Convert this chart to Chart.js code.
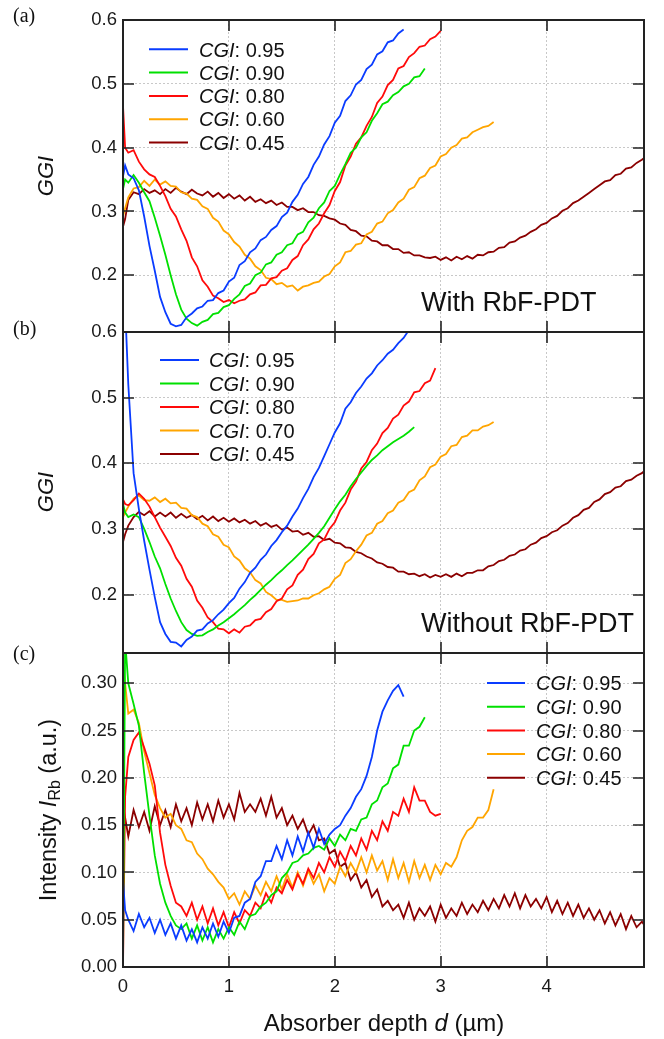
<!DOCTYPE html>
<html lang="en">
<head>
  <meta charset="UTF-8">
  <title>GGI and Rb depth profiles</title>
  <script src="https://cdn.jsdelivr.net/npm/chart.js@4"></script>
  <style>
    body { margin: 0; background: #fff; }
    #wrap { position: relative; width: 664px; height: 1039px; font-family: "Liberation Sans", Arial, sans-serif; color: #111; }
    canvas { position: absolute; left: 0; }
    .panel { position: absolute; left: 13px; font-family: "Liberation Serif", "Times New Roman", serif; font-size: 20px; line-height: 20px; }
    .title { position: absolute; white-space: nowrap; line-height: 1; transform: translate(-50%, -50%); }
    .rot { transform: translate(-50%, -50%) rotate(-90deg); }
    sub { font-size: 0.68em; vertical-align: -0.25em; }
  </style>
</head>
<body>
<div id="wrap">
  <canvas id="chartA" width="664" height="350" style="top:0px"></canvas>
  <canvas id="chartB" width="664" height="360" style="top:312px"></canvas>
  <canvas id="chartC" width="664" height="406" style="top:633px"></canvas>

  <div class="panel" style="top:5px">(a)</div>
  <div class="panel" style="top:318px">(b)</div>
  <div class="panel" style="top:643px">(c)</div>
  <div class="title rot" style="left:46px; top:176px; font-size:22px"><i>GGI</i></div>
  <div class="title rot" style="left:46px; top:492px; font-size:22px"><i>GGI</i></div>
  <div class="title rot" style="left:50px; top:810px; font-size:23.5px">Intensity <i>I</i><sub>Rb</sub> (a.u.)</div>
  <div class="title" style="left:384px; top:1023px; font-size:24px">Absorber depth <i>d</i> (µm)</div>
</div>

<script>
  // sampling depths (µm), shared by every series
  const depth = [0, 0.02, 0.05, 0.1, 0.15, 0.2, 0.25, 0.3, 0.35, 0.4,
    0.45, 0.5, 0.55, 0.6, 0.65, 0.7, 0.75, 0.8, 0.85, 0.9,
    0.95, 1, 1.05, 1.1, 1.15, 1.2, 1.25, 1.3, 1.35, 1.4,
    1.45, 1.5, 1.55, 1.6, 1.65, 1.7, 1.75, 1.8, 1.85, 1.9,
    1.95, 2, 2.05, 2.1, 2.15, 2.2, 2.25, 2.3, 2.35, 2.4,
    2.45, 2.5, 2.55, 2.6, 2.65, 2.7, 2.75, 2.8, 2.85, 2.9,
    2.95, 3, 3.05, 3.1, 3.15, 3.2, 3.25, 3.3, 3.35, 3.4,
    3.45, 3.5, 3.55, 3.6, 3.65, 3.7, 3.75, 3.8, 3.85, 3.9,
    3.95, 4, 4.05, 4.1, 4.15, 4.2, 4.25, 4.3, 4.35, 4.4,
    4.45, 4.5, 4.55, 4.6, 4.65, 4.7, 4.75, 4.8, 4.85, 4.9,
    4.95];

  const cgiA = ['0.95', '0.90', '0.80', '0.60', '0.45'];
  const cgiB = ['0.95', '0.90', '0.80', '0.70', '0.45'];
  const cgiC = ['0.95', '0.90', '0.80', '0.60', '0.45'];
  const colors = ['#0a3cff', '#00e000', '#ff0a0a', '#ffa500', '#8b0000'];

  const xTicks = [0, 1, 2, 3, 4];
  const ggiTicks = [0.2, 0.3, 0.4, 0.5, 0.6];
  const rbTicks = [0, 0.05, 0.10, 0.15, 0.20, 0.25, 0.30];

  // (a) GGI, with RbF-PDT
  const ggiWith95 = [0.355, 0.372, 0.358, 0.352, 0.333, 0.292, 0.246, 0.207, 0.166, 0.142,
    0.124, 0.120, 0.122, 0.134, 0.140, 0.148, 0.151, 0.160, 0.161, 0.172,
    0.176, 0.190, 0.196, 0.216, 0.222, 0.236, 0.242, 0.255, 0.260, 0.271,
    0.277, 0.291, 0.298, 0.315, 0.326, 0.343, 0.354, 0.373, 0.386, 0.405,
    0.418, 0.439, 0.450, 0.473, 0.482, 0.499, 0.506, 0.523, 0.530, 0.546,
    0.551, 0.565, 0.568, 0.579, 0.585];
  const ggiWith90 = [0.335, 0.350, 0.345, 0.357, 0.345, 0.330, 0.316, 0.290, 0.262, 0.232,
    0.200, 0.170, 0.146, 0.132, 0.125, 0.121, 0.127, 0.130, 0.139, 0.141,
    0.150, 0.153, 0.163, 0.170, 0.183, 0.187, 0.200, 0.204, 0.217, 0.220,
    0.232, 0.236, 0.247, 0.250, 0.264, 0.268, 0.283, 0.290, 0.305, 0.314,
    0.332, 0.340, 0.358, 0.374, 0.392, 0.400, 0.416, 0.424, 0.442, 0.454,
    0.468, 0.472, 0.482, 0.487, 0.496, 0.500, 0.510, 0.512, 0.524];
  const ggiWith80 = [0.465, 0.400, 0.392, 0.396, 0.378, 0.366, 0.358, 0.354, 0.340, 0.324,
    0.304, 0.292, 0.272, 0.254, 0.228, 0.214, 0.192, 0.182, 0.168, 0.164,
    0.158, 0.161, 0.156, 0.160, 0.162, 0.170, 0.173, 0.184, 0.185, 0.195,
    0.197, 0.207, 0.211, 0.224, 0.230, 0.247, 0.256, 0.272, 0.281, 0.297,
    0.310, 0.332, 0.346, 0.372, 0.386, 0.406, 0.416, 0.434, 0.448, 0.470,
    0.480, 0.498, 0.506, 0.524, 0.528, 0.542, 0.548, 0.558, 0.560, 0.570,
    0.574, 0.583];
  const ggiWith60 = [0.292, 0.305, 0.322, 0.336, 0.338, 0.348, 0.340, 0.350, 0.342, 0.347,
    0.340, 0.339, 0.330, 0.328, 0.320, 0.318, 0.308, 0.304, 0.290, 0.284,
    0.270, 0.264, 0.252, 0.245, 0.232, 0.226, 0.214, 0.208, 0.196, 0.194,
    0.186, 0.188, 0.182, 0.184, 0.176, 0.182, 0.184, 0.188, 0.190, 0.198,
    0.202, 0.214, 0.220, 0.236, 0.238, 0.248, 0.250, 0.264, 0.268, 0.281,
    0.284, 0.297, 0.302, 0.314, 0.320, 0.334, 0.338, 0.352, 0.356, 0.368,
    0.372, 0.386, 0.390, 0.400, 0.404, 0.414, 0.416, 0.424, 0.428, 0.432,
    0.434, 0.440];
  const ggiWith45 = [0.276, 0.288, 0.318, 0.330, 0.327, 0.335, 0.329, 0.333, 0.327, 0.335,
    0.329, 0.337, 0.331, 0.327, 0.334, 0.328, 0.325, 0.331, 0.323, 0.329,
    0.321, 0.327, 0.320, 0.325, 0.317, 0.323, 0.315, 0.319, 0.313, 0.317,
    0.310, 0.314, 0.307, 0.307, 0.302, 0.305, 0.299, 0.299, 0.294, 0.293,
    0.289, 0.287, 0.281, 0.279, 0.271, 0.269, 0.262, 0.261, 0.254, 0.253,
    0.247, 0.247, 0.241, 0.241, 0.235, 0.236, 0.231, 0.231, 0.228, 0.227,
    0.229, 0.224, 0.228, 0.223, 0.229, 0.225, 0.230, 0.226, 0.232, 0.231,
    0.236, 0.237, 0.243, 0.244, 0.251, 0.253, 0.259, 0.262, 0.268, 0.272,
    0.279, 0.282, 0.289, 0.293, 0.301, 0.305, 0.313, 0.317, 0.323, 0.329,
    0.335, 0.341, 0.347, 0.349, 0.357, 0.359, 0.367, 0.369, 0.376, 0.381,
    0.387];

  // (b) GGI, without RbF-PDT
  const ggiWithout95 = [0.700, 0.640, 0.520, 0.385, 0.330, 0.282, 0.238, 0.196, 0.158, 0.140,
    0.128, 0.127, 0.121, 0.131, 0.136, 0.145, 0.147, 0.156, 0.161, 0.170,
    0.177, 0.187, 0.195, 0.209, 0.219, 0.233, 0.241, 0.253, 0.261, 0.274,
    0.283, 0.295, 0.305, 0.319, 0.331, 0.347, 0.361, 0.379, 0.393, 0.411,
    0.429, 0.447, 0.461, 0.483, 0.493, 0.507, 0.517, 0.529, 0.537, 0.549,
    0.557, 0.567, 0.573, 0.583, 0.591, 0.603];
  const ggiWithout90 = [0.338, 0.325, 0.318, 0.322, 0.318, 0.300, 0.280, 0.258, 0.240, 0.216,
    0.194, 0.175, 0.158, 0.146, 0.140, 0.137, 0.138, 0.143, 0.147, 0.153,
    0.158, 0.164, 0.170, 0.177, 0.184, 0.192, 0.199, 0.207, 0.215, 0.222,
    0.230, 0.237, 0.245, 0.252, 0.260, 0.268, 0.276, 0.285, 0.294, 0.304,
    0.317, 0.330, 0.342, 0.352, 0.365, 0.376, 0.386, 0.396, 0.405, 0.412,
    0.420, 0.426, 0.432, 0.437, 0.442, 0.448, 0.455];
  const ggiWithout80 = [0.345, 0.338, 0.336, 0.344, 0.354, 0.346, 0.334, 0.318, 0.302, 0.288,
    0.274, 0.256, 0.244, 0.224, 0.212, 0.191, 0.180, 0.165, 0.158, 0.148,
    0.147, 0.141, 0.147, 0.142, 0.151, 0.153, 0.161, 0.163, 0.173, 0.178,
    0.190, 0.194, 0.208, 0.214, 0.230, 0.238, 0.254, 0.262, 0.278, 0.284,
    0.300, 0.310, 0.328, 0.340, 0.360, 0.372, 0.392, 0.402, 0.420, 0.430,
    0.446, 0.454, 0.468, 0.474, 0.488, 0.494, 0.508, 0.510, 0.522, 0.526,
    0.545];
  const ggiWithout70 = [0.318, 0.325, 0.334, 0.346, 0.351, 0.344, 0.343, 0.348, 0.341, 0.346,
    0.339, 0.340, 0.332, 0.331, 0.321, 0.318, 0.308, 0.304, 0.292, 0.288,
    0.276, 0.272, 0.258, 0.252, 0.240, 0.234, 0.222, 0.217, 0.204, 0.199,
    0.192, 0.192, 0.189, 0.190, 0.191, 0.194, 0.194, 0.199, 0.202, 0.208,
    0.212, 0.224, 0.230, 0.248, 0.254, 0.266, 0.276, 0.290, 0.294, 0.308,
    0.312, 0.324, 0.328, 0.340, 0.344, 0.356, 0.360, 0.374, 0.380, 0.394,
    0.398, 0.410, 0.414, 0.426, 0.428, 0.440, 0.442, 0.450, 0.450, 0.456,
    0.458, 0.463];
  const ggiWithout45 = [0.280, 0.292, 0.305, 0.318, 0.326, 0.321, 0.327, 0.319, 0.325, 0.319,
    0.325, 0.317, 0.323, 0.317, 0.321, 0.315, 0.320, 0.313, 0.319, 0.312,
    0.317, 0.311, 0.316, 0.310, 0.314, 0.308, 0.312, 0.305, 0.309, 0.303,
    0.306, 0.299, 0.302, 0.296, 0.297, 0.291, 0.294, 0.288, 0.289, 0.283,
    0.285, 0.279, 0.278, 0.272, 0.271, 0.265, 0.263, 0.258, 0.255, 0.249,
    0.247, 0.242, 0.241, 0.235, 0.235, 0.231, 0.232, 0.228, 0.231, 0.226,
    0.230, 0.227, 0.231, 0.227, 0.232, 0.228, 0.233, 0.233, 0.237, 0.237,
    0.243, 0.245, 0.251, 0.253, 0.259, 0.261, 0.267, 0.269, 0.276, 0.279,
    0.286, 0.289, 0.295, 0.298, 0.305, 0.309, 0.317, 0.321, 0.329, 0.332,
    0.341, 0.345, 0.353, 0.356, 0.363, 0.365, 0.373, 0.375, 0.381, 0.385,
    0.392];

  // (c) Rb intensity
  const rb95 = [0.092, 0.060, 0.050, 0.038, 0.056, 0.042, 0.052, 0.036, 0.050, 0.034,
    0.046, 0.030, 0.044, 0.028, 0.040, 0.026, 0.042, 0.030, 0.046, 0.032,
    0.048, 0.036, 0.052, 0.054, 0.068, 0.072, 0.090, 0.096, 0.112, 0.112,
    0.128, 0.114, 0.134, 0.118, 0.138, 0.122, 0.142, 0.126, 0.146, 0.130,
    0.140, 0.146, 0.150, 0.160, 0.168, 0.180, 0.188, 0.202, 0.222, 0.250,
    0.270, 0.282, 0.292, 0.298, 0.286];
  const rb90 = [0.000, 0.345, 0.300, 0.278, 0.255, 0.205, 0.160, 0.118, 0.088, 0.068,
    0.054, 0.044, 0.040, 0.046, 0.030, 0.044, 0.028, 0.042, 0.026, 0.040,
    0.030, 0.042, 0.034, 0.048, 0.040, 0.054, 0.056, 0.064, 0.068, 0.076,
    0.080, 0.094, 0.100, 0.110, 0.112, 0.118, 0.120, 0.126, 0.128, 0.124,
    0.136, 0.128, 0.140, 0.134, 0.146, 0.144, 0.156, 0.158, 0.172, 0.176,
    0.190, 0.194, 0.210, 0.214, 0.234, 0.234, 0.250, 0.254, 0.264];
  const rb80 = [0.000, 0.180, 0.222, 0.240, 0.248, 0.232, 0.215, 0.192, 0.142, 0.108,
    0.086, 0.068, 0.064, 0.054, 0.068, 0.050, 0.064, 0.046, 0.062, 0.044,
    0.058, 0.042, 0.058, 0.046, 0.060, 0.054, 0.068, 0.062, 0.078, 0.068,
    0.084, 0.078, 0.092, 0.082, 0.098, 0.088, 0.104, 0.094, 0.110, 0.100,
    0.116, 0.106, 0.122, 0.112, 0.128, 0.118, 0.136, 0.124, 0.144, 0.134,
    0.154, 0.144, 0.164, 0.160, 0.178, 0.164, 0.190, 0.176, 0.176, 0.164,
    0.160, 0.162];
  const rb60 = [0.280, 0.300, 0.268, 0.272, 0.258, 0.228, 0.205, 0.182, 0.168, 0.158,
    0.162, 0.150, 0.146, 0.134, 0.132, 0.120, 0.114, 0.104, 0.098, 0.090,
    0.084, 0.072, 0.078, 0.066, 0.080, 0.072, 0.086, 0.076, 0.090, 0.080,
    0.096, 0.082, 0.098, 0.084, 0.100, 0.086, 0.102, 0.088, 0.098, 0.080,
    0.094, 0.088, 0.106, 0.096, 0.110, 0.100, 0.116, 0.100, 0.118, 0.102,
    0.112, 0.092, 0.114, 0.094, 0.110, 0.090, 0.112, 0.094, 0.108, 0.092,
    0.108, 0.098, 0.110, 0.106, 0.116, 0.134, 0.144, 0.148, 0.158, 0.158,
    0.166, 0.188];
  const rb45 = [0.130, 0.158, 0.138, 0.166, 0.148, 0.164, 0.144, 0.170, 0.150, 0.166,
    0.148, 0.172, 0.154, 0.168, 0.150, 0.174, 0.156, 0.172, 0.154, 0.176,
    0.158, 0.172, 0.156, 0.184, 0.164, 0.172, 0.164, 0.178, 0.160, 0.180,
    0.158, 0.168, 0.150, 0.160, 0.146, 0.156, 0.140, 0.150, 0.134, 0.136,
    0.120, 0.124, 0.106, 0.110, 0.092, 0.100, 0.084, 0.092, 0.074, 0.082,
    0.064, 0.070, 0.060, 0.066, 0.052, 0.068, 0.050, 0.062, 0.054, 0.064,
    0.048, 0.066, 0.052, 0.062, 0.054, 0.068, 0.056, 0.066, 0.058, 0.070,
    0.060, 0.072, 0.062, 0.076, 0.064, 0.078, 0.062, 0.076, 0.064, 0.072,
    0.062, 0.074, 0.058, 0.070, 0.056, 0.068, 0.054, 0.066, 0.052, 0.062,
    0.050, 0.060, 0.046, 0.058, 0.044, 0.056, 0.040, 0.054, 0.042, 0.048,
    0.040];

  const FONT = "'Liberation Sans', Arial, sans-serif";

  function toPoints(vals) {
    return vals.map((v, i) => ({ x: depth[i], y: v }));
  }

  function makeSets(series, labels) {
    return series.map((vals, i) => ({
      label: labels[i],
      data: toPoints(vals),
      borderColor: colors[i],
      borderWidth: 1.8,
      pointRadius: 0,
      tension: 0,
      fill: false
    }));
  }

  // frame with inward ticks, custom legend (italic CGI) and panel note
  function framePlugin(cfg) {
    return {
      id: 'frame',
      afterDraw(chart) {
        const ctx = chart.ctx;
        const a = chart.chartArea;
        const xs = chart.scales.x, ys = chart.scales.y;
        ctx.save();
        ctx.strokeStyle = '#222';
        ctx.lineWidth = 1.6;
        ctx.beginPath();
        xs.ticks.forEach(t => {
          if (t.value <= xs.min || t.value >= xs.max) return;
          const px = Math.round(xs.getPixelForValue(t.value));
          ctx.moveTo(px, a.top); ctx.lineTo(px, a.top + 11);
          ctx.moveTo(px, a.bottom); ctx.lineTo(px, a.bottom - 11);
        });
        ys.ticks.forEach(t => {
          if (t.value <= ys.min + 1e-9 || t.value >= ys.max - 1e-9) return;
          const py = Math.round(ys.getPixelForValue(t.value));
          ctx.moveTo(a.left, py); ctx.lineTo(a.left + 11, py);
          ctx.moveTo(a.right, py); ctx.lineTo(a.right - 11, py);
        });
        ctx.stroke();
        ctx.lineWidth = 2;
        ctx.strokeRect(a.left, a.top, a.right - a.left, a.bottom - a.top);

        // legend
        const lg = cfg.legend;
        chart.data.datasets.forEach((ds, i) => {
          const y = lg.y0 + i * lg.dy - cfg.top;
          ctx.strokeStyle = ds.borderColor;
          ctx.lineWidth = 2;
          ctx.beginPath();
          ctx.moveTo(lg.x0, y); ctx.lineTo(lg.x1, y);
          ctx.stroke();
          ctx.fillStyle = '#111';
          ctx.textBaseline = 'alphabetic';
          ctx.font = 'italic 20px ' + FONT;
          ctx.fillText('CGI', lg.tx, y + 7.2);
          const w = ctx.measureText('CGI').width;
          ctx.font = '20px ' + FONT;
          ctx.fillText(': ' + ds.label, lg.tx + w, y + 7.2);
        });

        if (cfg.note) {
          ctx.fillStyle = '#111';
          ctx.font = '27px ' + FONT;
          ctx.textBaseline = 'alphabetic';
          ctx.fillText(cfg.note.text, cfg.note.x, cfg.note.y - cfg.top + 9.7);
        }
        ctx.restore();
      }
    };
  }

  function makeChart(id, cfg) {
    const gridOpts = { color: '#c8c8c8', lineWidth: 1, drawTicks: false };
    const borderOpts = { display: false, dash: [2, 2] };
    return new Chart(document.getElementById(id), {
      type: 'line',
      data: { datasets: makeSets(cfg.series, cfg.labels) },
      options: {
        responsive: false,
        animation: false,
        events: [],
        devicePixelRatio: 1,
        layout: { padding: { top: 20, right: 20, left: 0, bottom: 0 } },
        plugins: { legend: { display: false }, tooltip: { enabled: false } },
        scales: {
          x: {
            type: 'linear', min: 0, max: 4.92,
            afterBuildTicks: s => { s.ticks = xTicks.map(v => ({ value: v })); },
            afterFit: s => { s.height = cfg.xHeight; },
            grid: gridOpts, border: borderOpts,
            ticks: { display: cfg.xLabels, padding: 9, color: '#1a1a1a', font: { family: FONT, size: 18.5 } }
          },
          y: {
            type: 'linear', min: cfg.yMin, max: cfg.yMax,
            afterBuildTicks: s => { s.ticks = cfg.yTicks.map(v => ({ value: v })); },
            afterFit: s => { s.width = 123; },
            grid: gridOpts, border: borderOpts,
            ticks: {
              padding: 6, color: '#1a1a1a', font: { family: FONT, size: 18.5 },
              callback: v => Number(v).toFixed(cfg.digits)
            }
          }
        }
      },
      plugins: [framePlugin(cfg)]
    });
  }

  makeChart('chartA', {
    top: 0, xHeight: 18, xLabels: false,
    yMin: 0.111, yMax: 0.6, yTicks: ggiTicks, digits: 1,
    series: [ggiWith95, ggiWith90, ggiWith80, ggiWith60, ggiWith45], labels: cgiA,
    legend: { x0: 149, x1: 188, tx: 199, y0: 49.3, dy: 23.3 },
    note: { text: 'With RbF-PDT', x: 421, y: 301 }
  });

  makeChart('chartB', {
    top: 312, xHeight: 19, xLabels: false,
    yMin: 0.111, yMax: 0.6, yTicks: ggiTicks, digits: 1,
    series: [ggiWithout95, ggiWithout90, ggiWithout80, ggiWithout70, ggiWithout45], labels: cgiB,
    legend: { x0: 160, x1: 199, tx: 209, y0: 360, dy: 23.5 },
    note: { text: 'Without RbF-PDT', x: 421, y: 622 }
  });

  makeChart('chartC', {
    top: 633, xHeight: 72, xLabels: true,
    yMin: 0, yMax: 0.332, yTicks: rbTicks, digits: 2,
    series: [rb95, rb90, rb80, rb60, rb45], labels: cgiC,
    legend: { x0: 487, x1: 525, tx: 536, y0: 683, dy: 23.7 }
  });
</script>
</body>
</html>
